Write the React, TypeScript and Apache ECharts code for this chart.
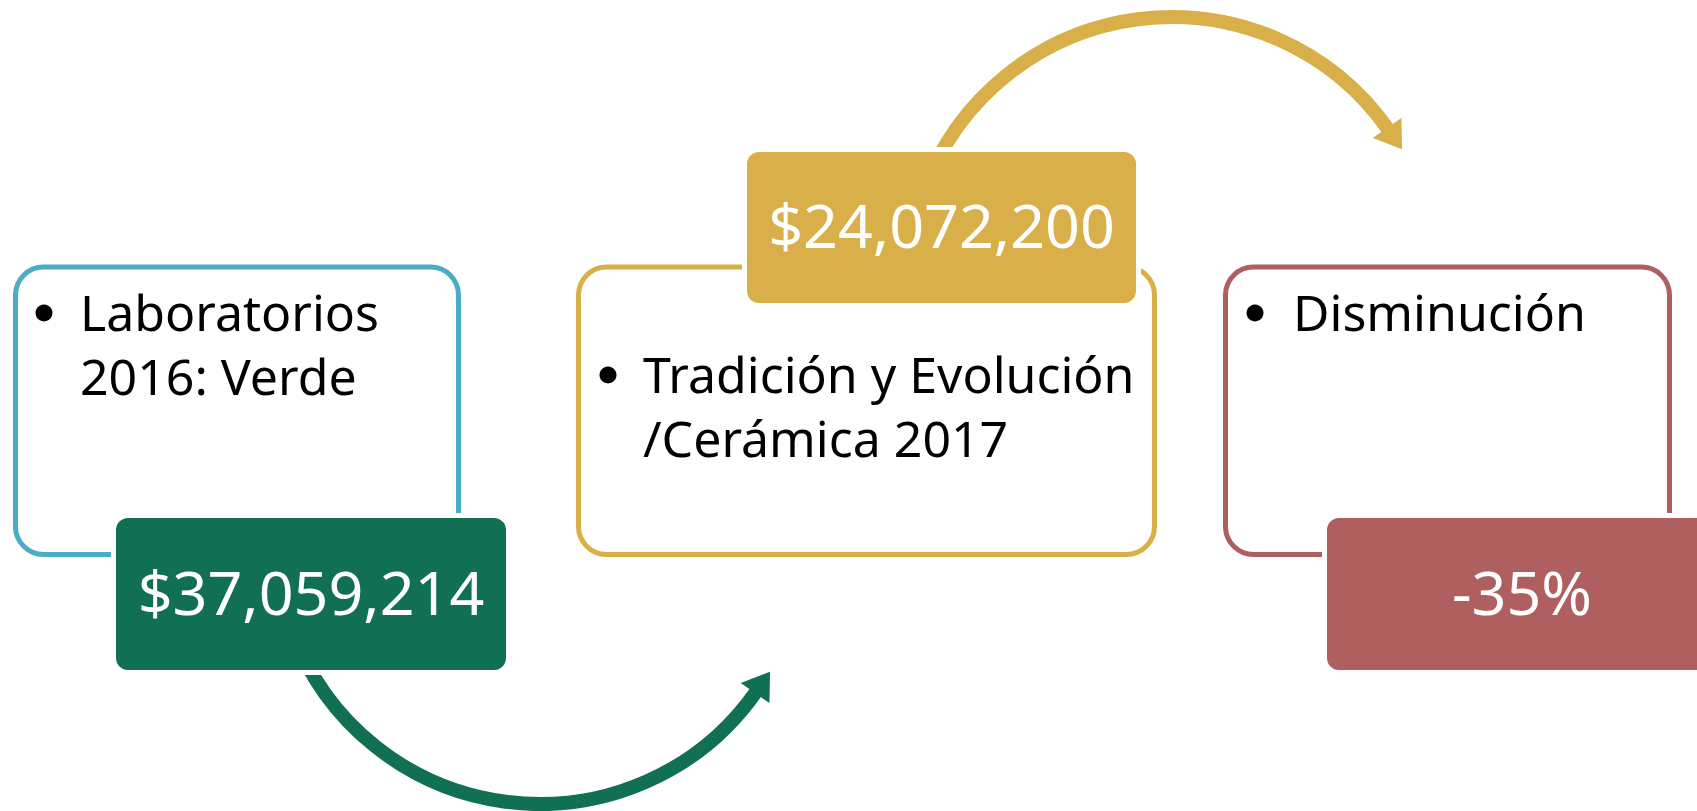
import React, { useEffect, useRef } from "react";
import * as echarts from "echarts";

// ---- content ----
const stepLabels: string[][] = [
  ["Laboratorios", "2016: Verde"],
  ["Tradición y Evolución", "/Cerámica 2017"],
  ["Disminución"],
];
const stepValues: string[] = ["$37,059,214", "$24,072,200", "-35%"];

// ---- styles ----
const outlineColors = ["#4BACC6", "#D8AF48", "#AF5F5F"];
const valueColors = ["#116F53", "#D8AF48", "#AF5F5F"];
const FONT = "'Noto Sans', 'Open Sans', sans-serif";
const LABEL_SIZE = 50;
const VALUE_SIZE = 61;
const CENTRAL = 0.388; // central baseline offset (em) above alphabetic baseline

// ---- layout ----
const outlineBoxes = [
  { x: 15.5, y: 267, w: 443, h: 287.5 },
  { x: 578.5, y: 267, w: 576, h: 287.5 },
  { x: 1225.5, y: 267, w: 444, h: 287.5 },
];
const valueBoxes = [
  { x: 116, y: 518, w: 390, h: 152 },
  { x: 747, y: 152, w: 389, h: 151 },
  { x: 1327, y: 518, w: 390, h: 152 },
];
const labelPos = [
  { bx: 44, tx: 80, base: 331 },
  { bx: 608, tx: 643, base: 393 },
  { bx: 1255, tx: 1293, base: 331 },
];
const LINE_GAP = 64;
const valueBaselines = [615, 248, 615];
const arrows = [
  { cx: 540, cy: 540, r: 264, from: 160, to: 35, color: "#116F53" },
  { cx: 1172, cy: 281, r: 264, from: 200, to: 325, color: "#D8AF48" },
];

function buildGraphics() {
  const els: any[] = [];
  // outline boxes
  outlineBoxes.forEach((b, i) => {
    els.push({
      type: "rect",
      shape: { x: b.x, y: b.y, width: b.w, height: b.h, r: 28 },
      style: { fill: "#fff", stroke: outlineColors[i], lineWidth: 5 },
      z: 1,
    });
  });
  // arrows
  arrows.forEach((a) => {
    const rad = Math.PI / 180;
    const clockwise = a.to > a.from;
    els.push({
      type: "arc",
      shape: {
        cx: a.cx,
        cy: a.cy,
        r: a.r,
        startAngle: a.from * rad,
        endAngle: a.to * rad,
        clockwise,
      },
      style: { stroke: a.color, lineWidth: 14, fill: "none" },
      z: 2,
    });
    const t = a.to * rad;
    const ex = a.cx + a.r * Math.cos(t);
    const ey = a.cy + a.r * Math.sin(t);
    // tangent in travel direction
    const dir = clockwise ? 1 : -1;
    const dx = -Math.sin(t) * dir;
    const dy = Math.cos(t) * dir;
    const nx = Math.cos(t);
    const ny = Math.sin(t);
    const len = 24;
    const half = 17.5;
    const back = 2;
    els.push({
      type: "polygon",
      shape: {
        points: [
          [ex + dx * len, ey + dy * len],
          [ex - dx * back + nx * half, ey - dy * back + ny * half],
          [ex - dx * back - nx * half, ey - dy * back - ny * half],
        ],
      },
      style: { fill: a.color },
      z: 2,
    });
  });
  // value boxes with white margin
  valueBoxes.forEach((b, i) => {
    els.push({
      type: "rect",
      shape: { x: b.x - 5, y: b.y - 5, width: b.w + 10, height: b.h + 10, r: 16 },
      style: { fill: "#ffffff" },
      z: 3,
    });
    els.push({
      type: "rect",
      shape: { x: b.x, y: b.y, width: b.w, height: b.h, r: 12 },
      style: { fill: valueColors[i] },
      z: 4,
    });
    els.push({
      type: "text",
      x: b.x + b.w / 2,
      y: valueBaselines[i] - CENTRAL * VALUE_SIZE,
      style: {
        text: stepValues[i],
        fill: "#ffffff",
        font: `${VALUE_SIZE}px ${FONT}`,
        align: "center",
        verticalAlign: "middle",
      },
      z: 5,
    });
  });
  // labels with bullets
  stepLabels.forEach((lines, i) => {
    const p = labelPos[i];
    els.push({
      type: "circle",
      shape: { cx: p.bx, cy: p.base - 18, r: 8.5 },
      style: { fill: "#000" },
      z: 5,
    });
    lines.forEach((line, j) => {
      els.push({
        type: "text",
        x: p.tx,
        y: p.base + j * LINE_GAP - CENTRAL * LABEL_SIZE,
        style: {
          text: line,
          fill: "#000000",
          font: `${LABEL_SIZE}px ${FONT}`,
          align: "left",
          verticalAlign: "middle",
        },
        z: 5,
      });
    });
  });
  return els;
}

export default function App() {
  const ref = useRef<HTMLDivElement>(null);
  useEffect(() => {
    document.body.style.margin = "0";
    if (!ref.current) return;
    const chart = echarts.init(ref.current, undefined, { renderer: "svg" });
    chart.setOption({
      animation: false,
      backgroundColor: "#ffffff",
      graphic: { elements: buildGraphics() },
    });
    return () => chart.dispose();
  }, []);
  return (
    <div
      ref={ref}
      style={{ position: "absolute", left: 0, top: 0, width: 1697, height: 811 }}
    />
  );
}
